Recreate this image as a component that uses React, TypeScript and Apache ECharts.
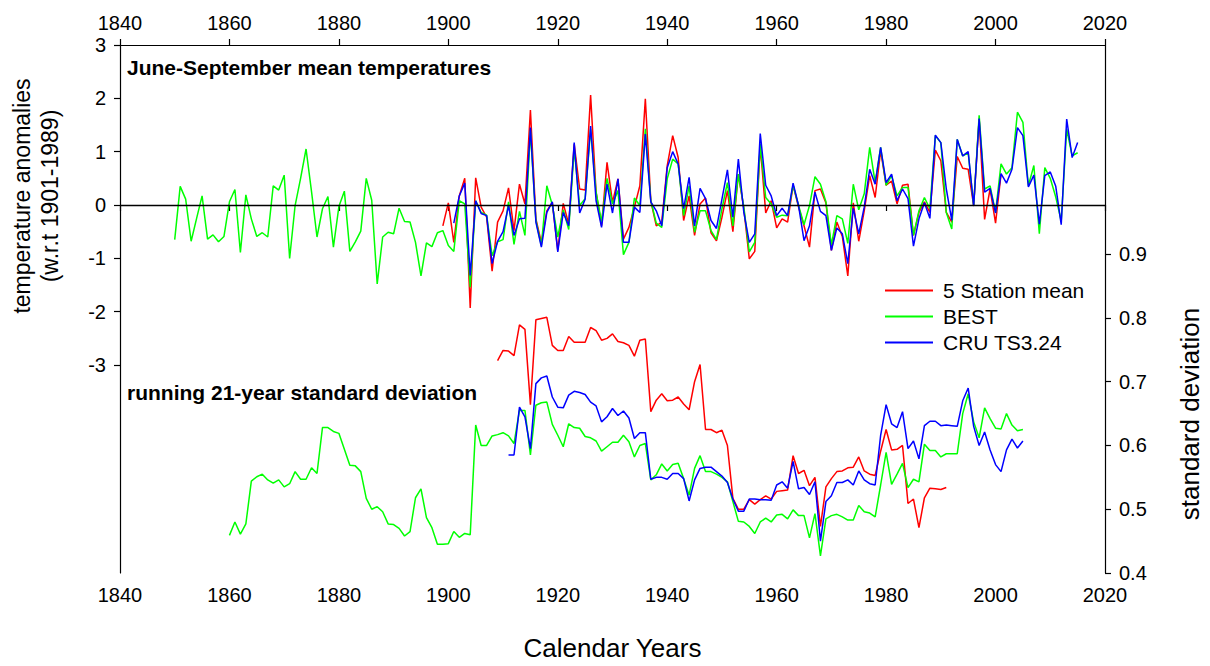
import React, { useEffect, useRef } from "react";
import * as echarts from "echarts";

const FONT = "'Liberation Sans', Arial, Helvetica, sans-serif";

// ---- Top panel: June-September mean temperature anomalies ----
const stationStart = 1899;
const stationMean = [
  -0.39, 0.04, -0.70, 0.17, 0.50, -1.93, 0.51, -0.04, -0.23, -1.24,
  -0.32, -0.11, 0.32, -0.48, 0.39, 0.02, 1.78, -0.26, -0.70, -0.11,
  0.05, -0.85, 0.03, -0.36, 1.14, 0.30, 0.28, 2.06, 0.24, -0.39,
  0.80, 0.05, 0.49, -0.64, -0.42, -0.04, 0.36, 1.99, 0.08, -0.39,
  -0.32, 0.74, 1.30, 0.89, -0.29, 0.17, -0.57, 0.02, 0.13, -0.52,
  -0.67, -0.23, 0.27, -0.50, 0.58, -0.07, -1.01, -0.87, 1.11, -0.15,
  0.08, -0.43, -0.26, -0.32, 0.37, -0.04, -0.39, -0.79, 0.27, 0.30,
  0.04, -0.85, -0.32, -0.59, -1.33, 0.04, -0.68, -0.11, 0.55, 0.14,
  1.02, 0.37, 0.45, 0.02, 0.37, 0.39, -0.57, -0.14, 0.06, -0.14,
  1.03, 0.83, -0.14, -0.32, 0.91, 0.69, 0.67, -0.01, 1.61, -0.27,
  0.30, -0.34, 0.58,
];

const bestStart = 1850;
const best = [
  -0.65, 0.35, 0.11, -0.68, -0.25, 0.17, -0.64, -0.56, -0.69, -0.59,
  0.06, 0.29, -0.89, 0.19, -0.26, -0.59, -0.52, -0.60, 0.36, 0.28,
  0.56, -1.00, -0.01, 0.50, 1.05, 0.25, -0.60, -0.07, 0.16, -0.79,
  -0.03, 0.26, -0.87, -0.69, -0.49, 0.50, 0.09, -1.48, -0.60, -0.51,
  -0.54, -0.06, -0.31, -0.32, -0.70, -1.33, -0.71, -0.78, -0.52, -0.48,
  -0.76, -0.87, 0.08, 0.02, -1.54, 0.08, -0.14, -0.19, -0.95, -0.69,
  -0.65, 0.06, -0.74, -0.12, -0.57, 1.39, -0.29, -0.76, 0.36, 0.00,
  -0.60, -0.09, -0.46, 1.05, -0.01, 0.12, 1.42, 0.24, -0.32, 0.50,
  0.02, 0.27, -0.93, -0.70, 0.13, -0.01, 1.43, 0.08, -0.34, -0.42,
  0.49, 0.86, 0.77, -0.20, 0.36, -0.51, -0.11, -0.11, -0.48, -0.65,
  -0.07, 0.42, -0.39, 0.58, -0.04, -0.88, -0.70, 1.14, 0.14, 0.02,
  -0.23, -0.19, -0.20, 0.37, -0.01, -0.37, -0.01, 0.53, 0.39, 0.06,
  -0.75, -0.20, -0.26, -0.72, 0.39, -0.09, 0.21, 1.08, 0.42, 1.08,
  0.37, 0.55, 0.17, 0.33, 0.33, -0.57, -0.11, 0.14, -0.07, 1.30,
  1.17, -0.14, -0.45, 1.23, 0.92, 0.98, -0.01, 1.68, 0.30, 0.36,
  -0.14, 0.77, 0.58, 0.70, 1.74, 1.55, 0.36, 0.74, -0.54, 0.70,
  0.50, 0.15, -0.30, 1.42, 0.92, 0.98,
];

const cruStart = 1901;
const cru = [
  -0.34, 0.17, 0.41, -1.32, 0.08, -0.16, -0.20, -1.10, -0.68, -0.50,
  -0.01, -0.57, -0.26, -0.25, 1.45, -0.32, -0.79, -0.14, 0.06, -0.88,
  -0.14, -0.39, 1.17, -0.15, 0.11, 1.48, 0.08, -0.42, 0.39, -0.15,
  0.49, -0.70, -0.70, -0.04, -0.14, 1.33, 0.06, -0.11, -0.39, 0.70,
  1.00, 0.77, -0.07, 0.52, -0.39, 0.31, 0.12, -0.29, -0.44, 0.11,
  0.66, -0.23, 0.86, -0.14, -0.70, -0.54, 1.34, 0.37, 0.17, -0.20,
  -0.06, -0.20, 0.41, -0.01, -0.67, -0.39, 0.24, -0.12, -0.20, -0.85,
  -0.43, -0.54, -1.10, -0.06, -0.54, -0.04, 0.67, 0.39, 1.08, 0.42,
  0.58, 0.08, 0.30, 0.12, -0.77, -0.26, 0.04, -0.25, 1.31, 1.17,
  0.30, -0.29, 1.23, 0.92, 1.00, -0.02, 1.62, 0.24, 0.31, -0.15,
  0.59, 0.41, 0.67, 1.45, 1.30, 0.34, 0.56, -0.36, 0.55, 0.62,
  0.35, -0.37, 1.61, 0.89, 1.17,
];

// ---- Bottom panel: running 21-year standard deviation ----
const stationSdStart = 1909;
const stationSd = [
  0.733, 0.749, 0.748, 0.741, 0.789, 0.782, 0.664, 0.797, 0.799, 0.801,
  0.757, 0.749, 0.749, 0.771, 0.762, 0.762, 0.762, 0.785, 0.780, 0.765,
  0.768, 0.775, 0.763, 0.761, 0.757, 0.740, 0.765, 0.767, 0.653, 0.671,
  0.681, 0.670, 0.671, 0.676, 0.665, 0.656, 0.700, 0.727, 0.625, 0.625,
  0.620, 0.624, 0.600, 0.517, 0.500, 0.500, 0.515, 0.508, 0.515, 0.521,
  0.516, 0.528, 0.529, 0.530, 0.584, 0.556, 0.561, 0.537, 0.550, 0.473,
  0.535, 0.548, 0.559, 0.560, 0.565, 0.566, 0.582, 0.560, 0.555, 0.553,
  0.591, 0.625, 0.593, 0.594, 0.600, 0.509, 0.516, 0.471, 0.518, 0.533,
  0.532, 0.531, 0.534,
];

const bestSdStart = 1860;
const bestSd = [
  0.459, 0.480, 0.461, 0.477, 0.544, 0.551, 0.555, 0.546, 0.541, 0.546,
  0.535, 0.540, 0.559, 0.547, 0.547, 0.565, 0.556, 0.628, 0.628, 0.622,
  0.619, 0.594, 0.569, 0.568, 0.559, 0.517, 0.500, 0.504, 0.496, 0.477,
  0.476, 0.470, 0.458, 0.465, 0.518, 0.532, 0.487, 0.471, 0.445, 0.445,
  0.446, 0.465, 0.456, 0.462, 0.460, 0.632, 0.600, 0.600, 0.615, 0.617,
  0.620, 0.615, 0.603, 0.655, 0.655, 0.585, 0.663, 0.667, 0.668, 0.633,
  0.616, 0.598, 0.634, 0.628, 0.627, 0.614, 0.612, 0.607, 0.591, 0.598,
  0.605, 0.605, 0.616, 0.606, 0.582, 0.600, 0.603, 0.546, 0.554, 0.571,
  0.560, 0.570, 0.572, 0.548, 0.522, 0.564, 0.584, 0.559, 0.559, 0.555,
  0.550, 0.543, 0.512, 0.481, 0.480, 0.473, 0.462, 0.480, 0.486, 0.480,
  0.491, 0.492, 0.485, 0.499, 0.490, 0.490, 0.455, 0.493, 0.427, 0.485,
  0.490, 0.492, 0.488, 0.483, 0.483, 0.506, 0.496, 0.494, 0.488, 0.538,
  0.589, 0.539, 0.555, 0.572, 0.534, 0.547, 0.543, 0.602, 0.592, 0.592,
  0.582, 0.587, 0.587, 0.587, 0.650, 0.681, 0.637, 0.612, 0.659, 0.642,
  0.627, 0.626, 0.650, 0.632, 0.623, 0.625,
];

const cruSdStart = 1911;
const cruSd = [
  0.585, 0.585, 0.660, 0.645, 0.595, 0.697, 0.706, 0.709, 0.676, 0.660,
  0.659, 0.679, 0.685, 0.683, 0.680, 0.668, 0.662, 0.637, 0.645, 0.658,
  0.647, 0.654, 0.643, 0.611, 0.620, 0.620, 0.547, 0.550, 0.550, 0.547,
  0.556, 0.556, 0.548, 0.513, 0.546, 0.564, 0.566, 0.566, 0.559, 0.552,
  0.542, 0.516, 0.497, 0.497, 0.516, 0.516, 0.515, 0.515, 0.514, 0.538,
  0.543, 0.533, 0.575, 0.532, 0.534, 0.523, 0.543, 0.450, 0.512, 0.521,
  0.542, 0.542, 0.546, 0.538, 0.560, 0.546, 0.540, 0.538, 0.616, 0.664,
  0.634, 0.628, 0.653, 0.595, 0.607, 0.579, 0.631, 0.638, 0.638, 0.631,
  0.632, 0.631, 0.630, 0.670, 0.690, 0.630, 0.600, 0.621, 0.593, 0.570,
  0.559, 0.593, 0.610, 0.596, 0.607,
];

const yearTicks = [1840, 1860, 1880, 1900, 1920, 1940, 1960, 1980, 2000, 2020];
const anomalyTicks = [-3, -2, -1, 0, 1, 2, 3];
const sdTicks = [0.4, 0.5, 0.6, 0.7, 0.8, 0.9];

const NAMES = ["5 Station mean", "BEST", "CRU TS3.24"];
const COLORS = ["#ff0000", "#00ff00", "#0000ff"];

const pairs = (start: number, arr: number[]) => arr.map((v, i) => [start + i, v]);

export default function App() {
  const ref = useRef<HTMLDivElement>(null);

  useEffect(() => {
    if (!ref.current) return;
    const chart = echarts.init(ref.current, undefined, { renderer: "svg" });

    const lineSeries = (idx: number, data: number[][], yAxisIndex: number, extra: any = {}) => ({
      type: "line",
      name: NAMES[idx],
      data,
      xAxisIndex: 0,
      yAxisIndex,
      symbol: "none",
      showSymbol: false,
      color: COLORS[idx],
      lineStyle: { color: COLORS[idx], width: 1.5 },
      silent: true,
      ...extra,
    });

    const axisLineStyle = { color: "#000", width: 1.2 };
    const labelStyle = { color: "#000", fontSize: 20, fontFamily: FONT };

    chart.setOption({
      animation: false,
      backgroundColor: "#fff",
      grid: { left: 120, right: 105, top: 45, bottom: 91 },
      legend: {
        data: NAMES.map((n, i) => ({ name: n, icon: "rect", itemStyle: { color: COLORS[i] } })),
        orient: "vertical",
        left: 880,
        top: 275,
        itemWidth: 48,
        itemHeight: 2,
        itemGap: 5,
        textStyle: { color: "#000", fontSize: 21, fontFamily: FONT, padding: [0, 0, 0, 5] },
      },
      xAxis: [
        {
          type: "value",
          position: "bottom",
          min: 1840,
          max: 2020,
          interval: 20,
          name: "Calendar Years",
          nameLocation: "middle",
          nameGap: 62,
          nameTextStyle: { color: "#000", fontSize: 26, fontFamily: FONT },
          axisLine: { show: true, lineStyle: axisLineStyle },
          axisTick: { show: true, length: 6, lineStyle: axisLineStyle, customValues: yearTicks },
          axisLabel: { ...labelStyle, margin: 12, customValues: yearTicks, formatter: (v: number) => String(v) },
          splitLine: { show: false },
        },
        {
          type: "value",
          position: "top",
          min: 1840,
          max: 2020,
          interval: 20,
          axisLine: { show: true, lineStyle: axisLineStyle },
          axisTick: { show: true, length: 6, lineStyle: axisLineStyle, customValues: yearTicks },
          axisLabel: { ...labelStyle, margin: 12, customValues: yearTicks, formatter: (v: number) => String(v) },
          splitLine: { show: false },
        },
      ],
      yAxis: [
        {
          type: "value",
          position: "left",
          min: -6.9,
          max: 3,
          axisLine: { show: true, onZero: false, lineStyle: axisLineStyle },
          axisTick: { show: true, length: 6, lineStyle: axisLineStyle, customValues: anomalyTicks },
          axisLabel: { ...labelStyle, margin: 14, customValues: anomalyTicks, formatter: (v: number) => String(v) },
          splitLine: { show: false },
        },
        {
          type: "value",
          position: "right",
          min: 0.4,
          max: 1.228,
          axisLine: { show: true, onZero: false, lineStyle: axisLineStyle },
          axisTick: { show: true, length: 6, lineStyle: axisLineStyle, customValues: sdTicks },
          axisLabel: { ...labelStyle, margin: 14, customValues: sdTicks, formatter: (v: number) => v.toFixed(1) },
          splitLine: { show: false },
        },
      ],
      graphic: [
        {
          type: "text",
          left: 127,
          top: 57,
          style: { text: "June-September mean temperatures", font: `bold 21px ${FONT}`, fill: "#000" },
        },
        {
          type: "text",
          left: 127,
          top: 382,
          style: { text: "running 21-year standard deviation", font: `bold 21px ${FONT}`, fill: "#000" },
        },
        {
          type: "text",
          x: 36,
          y: 196,
          rotation: Math.PI / 2,
          style: {
            text: "temperature anomalies\n(w.r.t 1901-1989)",
            font: `23px ${FONT}`,
            lineHeight: 28,
            fill: "#000",
            textAlign: "center",
            textVerticalAlign: "middle",
          },
        },
        {
          type: "text",
          x: 1190,
          y: 414,
          rotation: Math.PI / 2,
          style: {
            text: "standard deviation",
            font: `26px ${FONT}`,
            fill: "#000",
            textAlign: "center",
            textVerticalAlign: "middle",
          },
        },
      ],
      series: [
        lineSeries(0, pairs(stationStart, stationMean), 0, {
          markLine: {
            silent: true,
            symbol: ["none", "none"],
            label: { show: false },
            lineStyle: { color: "#000", width: 1.3, type: "solid" },
            data: [{ yAxis: 0 }],
          },
        }),
        lineSeries(1, pairs(bestStart, best), 0),
        lineSeries(2, pairs(cruStart, cru), 0),
        lineSeries(0, pairs(stationSdStart, stationSd), 1),
        lineSeries(1, pairs(bestSdStart, bestSd), 1),
        lineSeries(2, pairs(cruSdStart, cruSd), 1),
      ],
    });

    return () => chart.dispose();
  }, []);

  return (
    <div
      ref={ref}
      style={{ position: "absolute", left: 0, top: 0, width: 1210, height: 666, background: "#fff" }}
    />
  );
}
